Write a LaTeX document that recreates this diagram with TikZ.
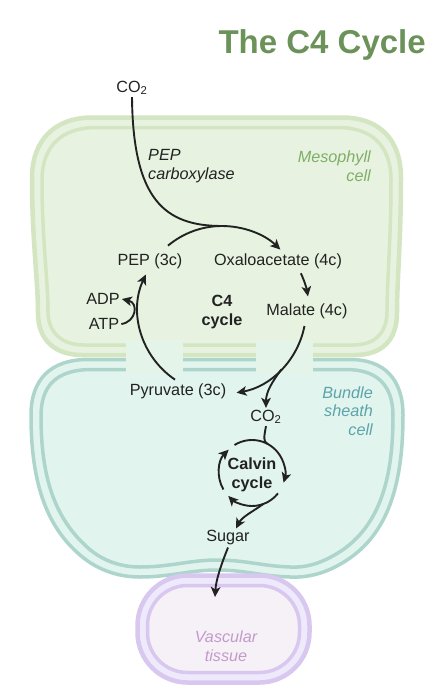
\documentclass[tikz,border=0pt]{standalone}
\usepackage{fontspec}
\setmainfont{Liberation Sans}
\usetikzlibrary{arrows.meta}
\definecolor{titlegreen}{HTML}{6A9259}
\definecolor{inkgray}{HTML}{222222}
\definecolor{mesofill}{HTML}{E7F3E0}
\definecolor{mesoband}{HTML}{D3E5C1}
\definecolor{mesotext}{HTML}{7FAE66}
\definecolor{bundlefill}{HTML}{E2F4EE}
\definecolor{bundleband}{HTML}{ADD5CB}
\definecolor{bundletext}{HTML}{5AA4AA}
\definecolor{gapfill}{HTML}{E5F4E8}
\definecolor{vascout}{HTML}{EFEAFB}
\definecolor{vascin}{HTML}{F6F0F7}
\definecolor{vascband}{HTML}{D8C8EF}
\definecolor{vasctext}{HTML}{C39BCB}
\begin{document}
\begin{tikzpicture}[x=1pt,y=-1pt,
	every node/.style={font=\fontsize{16.2}{18.5}\selectfont, text=inkgray, inner sep=2pt},
	flow/.style={draw=inkgray, line width=1.9pt, -{Stealth[length=10pt,width=9.5pt,inset=2.5pt]}},
	link/.style={draw=inkgray, line width=1.9pt},
	cellname/.style={font=\fontsize{16.2}{18.5}\selectfont\itshape, align=right, anchor=east},
	cyclename/.style={font=\fontsize{16.2}{18.5}\selectfont\bfseries, align=center}]

		\useasboundingbox (0,0) rectangle (432,686);

		\draw[draw=mesoband, line width=4.5pt, fill=mesofill] (92,117.5) -- (342,117.5) .. controls (380,117.5) and (401,140) .. (401,178) .. controls (401,240) and (397,280) .. (397,313) .. controls (397,340) and (382,355) .. (355,355) -- (82,355) .. controls (55,355) and (38,340) .. (38,313) .. controls (38,280) and (32,240) .. (32,178) .. controls (32,140) and (55,117.5) .. (92,117.5) -- cycle;
		\draw[draw=mesoband, line width=3.5pt] (96,127.5) -- (338,127.5) .. controls (372,127.5) and (391,146) .. (391,180) .. controls (391,240) and (387,280) .. (387,311) .. controls (387,333) and (375,345) .. (353,345) -- (84,345) .. controls (62,345) and (48,333) .. (48,311) .. controls (48,280) and (42,240) .. (42,180) .. controls (42,146) and (62,127.5) .. (96,127.5) -- cycle;

		\draw[draw=bundleband, line width=3.5pt, fill=bundlefill] (88,359.5) -- (350,359.5) .. controls (385,359.5) and (403,380) .. (403,415) .. controls (403,480) and (390,530) .. (350,558) .. controls (330,572) and (310,578) .. (290,577) .. controls (260,576) and (245,570) .. (217,570) .. controls (190,570) and (170,577) .. (140,577) .. controls (115,577) and (95,568) .. (80,555) .. controls (45,525) and (31,480) .. (31,415) .. controls (31,380) and (50,359.5) .. (88,359.5) -- cycle;
		\draw[draw=bundleband, line width=3.5pt] (92,369.5) -- (346,369.5) .. controls (378,369.5) and (393,386) .. (393,416) .. controls (393,476) and (381,522) .. (344,549) .. controls (325,562) and (308,568) .. (290,567) .. controls (262,566) and (245,560) .. (217,560) .. controls (190,560) and (170,567) .. (140,567) .. controls (118,567) and (100,559) .. (87,547) .. controls (55,518) and (41,478) .. (41,416) .. controls (41,386) and (56,369.5) .. (92,369.5) -- cycle;

		\fill[gapfill] (126,340) rectangle (183,374);
		\fill[gapfill] (256,340) rectangle (313,374);

		\draw[draw=vascband, line width=4.5pt, fill=vascout, rounded corners=50pt] (137.5,575.5) rectangle (309.5,682.5);
		\draw[draw=vascband, line width=3.5pt, fill=vascin, rounded corners=40pt] (147.5,585.5) rectangle (299.5,672.5);

		\node[font=\fontsize{33}{36}\selectfont\bfseries, text=titlegreen, anchor=base east] (title) at (428,53) {The C4 Cycle};

		\node (co2in) at (132,88) {CO\textsubscript{2}};
		\node[font=\fontsize{16.2}{18.5}\selectfont\itshape, align=left, anchor=west] (pepc) at (146,166) {PEP\\carboxylase};
		\node[cellname, text=mesotext] (meso) at (373,166) {Mesophyll\\cell};
		\node (pep) at (150,261) {PEP (3c)};
		\node (oaa) at (278,261) {Oxaloacetate (4c)};
		\node (adp) at (103,299) {ADP};
		\node (atp) at (104,324) {ATP};
		\node[cyclename] (c4) at (222,312) {C4\\cycle};
		\node (mal) at (307,311) {Malate (4c)};
		\node (pyr) at (178,391) {Pyruvate (3c)};
		\node (co2bs) at (266,417) {CO\textsubscript{2}};
		\node[cellname, text=bundletext] (bundle) at (375,411) {Bundle\\sheath\\cell};
		\node[cyclename] (calvin) at (252,475) {Calvin\\cycle};
		\node (sugar) at (228,538) {Sugar};
		\node[cellname, align=center, anchor=center, text=vasctext] (vasc) at (226,646) {Vascular\\tissue};

		\coordinate (c4c) at (222,310);
		\coordinate (cvc) at (252,473);
		\coordinate (vasin) at (215,597);

		\draw[flow] (co2in.south) .. controls (133,200) and (165,226) .. ([shift={(-90:84)}]c4c) arc[start angle=-90, end angle=-46, radius=84];
		\draw[link] ([shift={(-130:84)}]c4c) arc[start angle=-130, end angle=-90, radius=84];
		\draw[flow] ([shift={(-25:87)}]c4c) arc[start angle=-25, end angle=-9, radius=87];
		\draw[flow] ([shift={(11:84)}]c4c) arc[start angle=11, end angle=80, radius=84];
		\draw[flow] ([shift={(45:84)}]c4c) .. controls (272,382) and (266,392) .. (co2bs.north);
		\draw[flow] ([shift={(124:84)}]c4c) arc[start angle=124, end angle=205, radius=84];
		\draw[flow] (atp.east) .. controls (136,322) and (139,303) .. (adp.east);

		\draw[link] (co2bs.south) .. controls (264,437) and (263,441.5) .. ([shift={(-62:33)}]cvc);
		\draw[flow] ([shift={(-122:33)}]cvc) arc[start angle=-122, end angle=17, radius=33];
		\draw[flow] ([shift={(38:33)}]cvc) arc[start angle=38, end angle=136, radius=33];
		\draw[flow] ([shift={(150:33)}]cvc) arc[start angle=150, end angle=225, radius=33];
		\draw[flow] ([shift={(70:33)}]cvc) .. controls (252,512) and (242,517) .. ([xshift=8pt]sugar.north);
		\draw[flow] (sugar.south) .. controls (221,565) and (216,580) .. (vasin);

	\end{tikzpicture}
\end{document}
